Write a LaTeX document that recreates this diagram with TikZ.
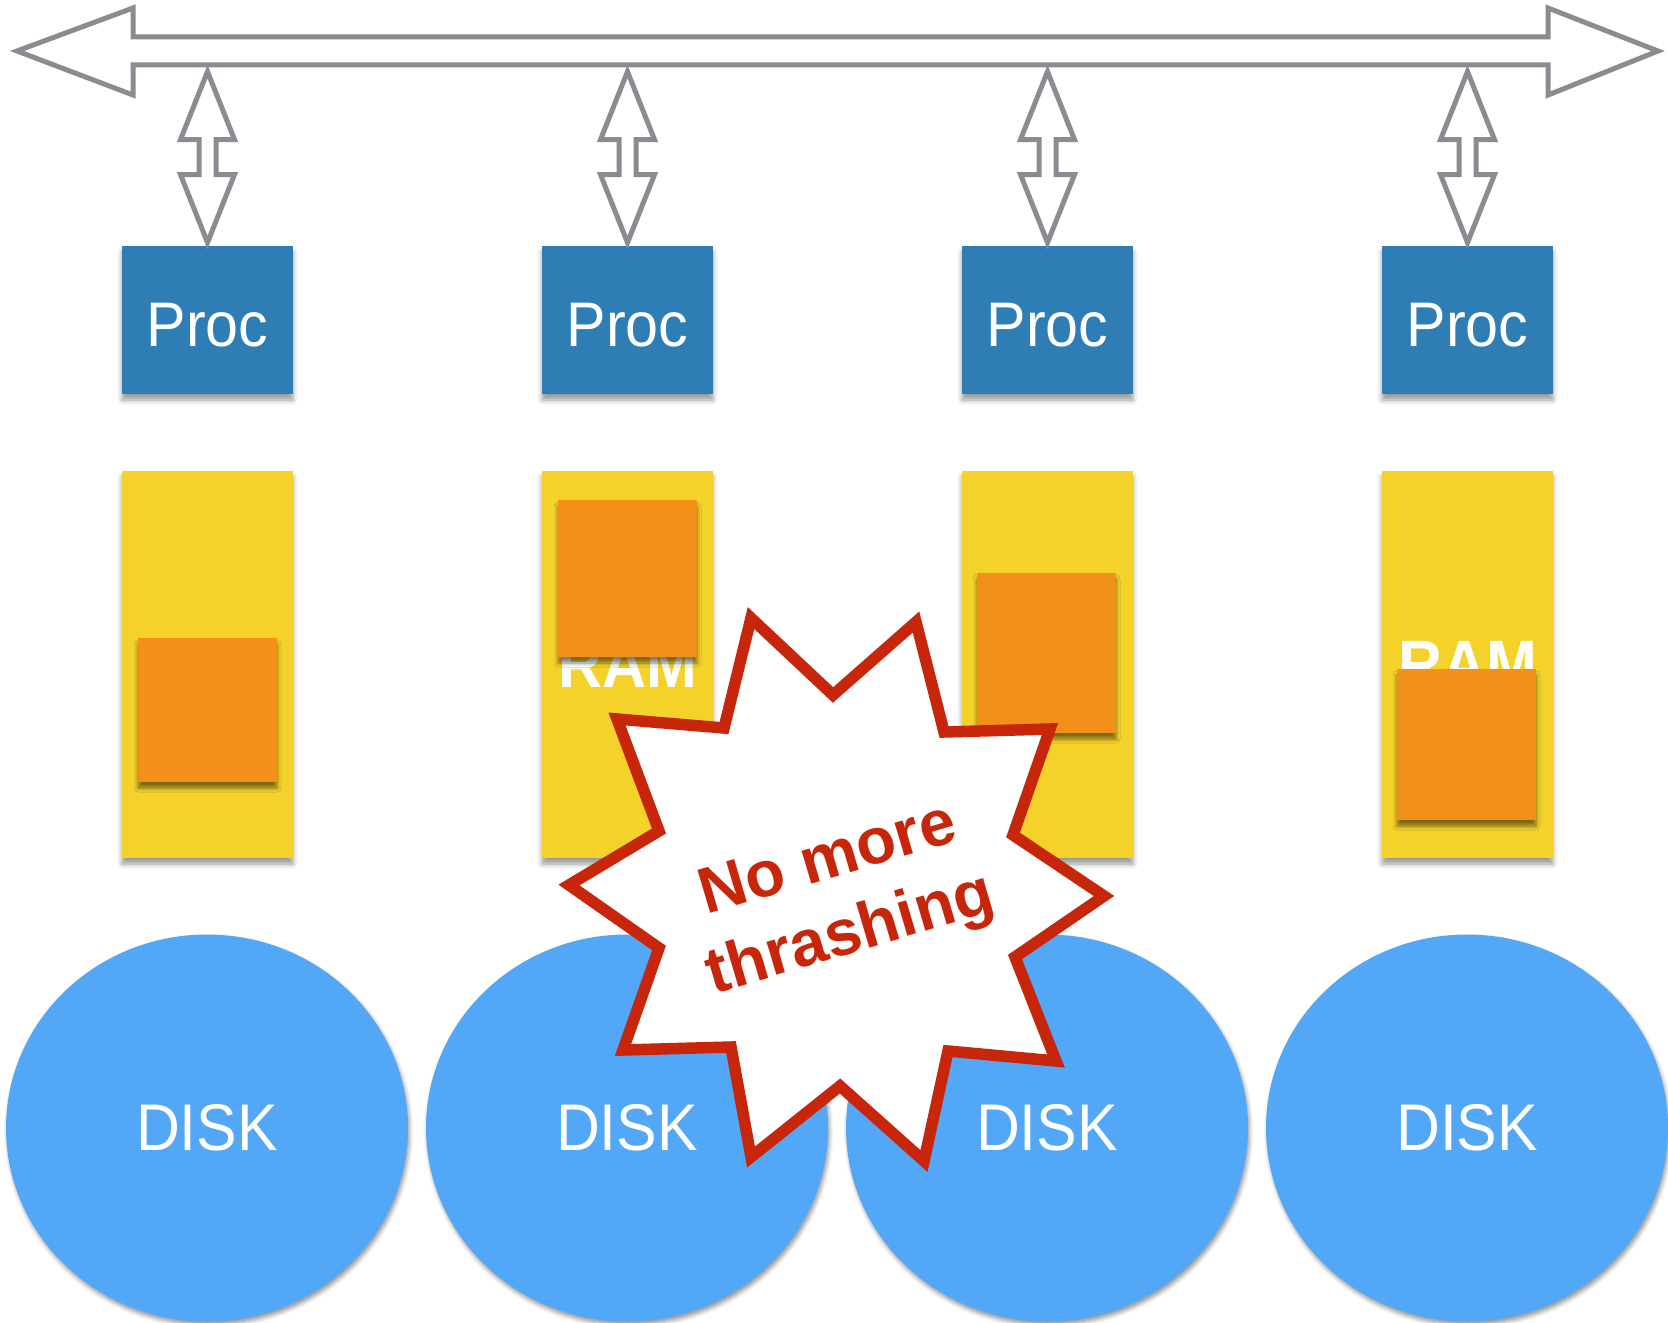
\documentclass[tikz,border=0pt]{standalone}
\usepackage{fontspec}
\usepackage{graphicx}
\setmainfont{Liberation Sans}
\usetikzlibrary{shapes.geometric,shadows.blur,calc}

\definecolor{busgray}{RGB}{138,140,145}
\definecolor{procblue}{RGB}{46,125,181}
\definecolor{ramyellow}{RGB}{245,210,42}
\definecolor{pageorange}{RGB}{242,144,26}
\definecolor{diskblue}{RGB}{82,167,247}
\definecolor{alertred}{RGB}{200,38,10}

\begin{document}
\begin{tikzpicture}[x=0.5pt,y=-0.5pt,
  bus/.style={draw=busgray, line width=2.5pt, fill=white, line join=miter},
  softshadow/.style={blur shadow={shadow xshift=0pt, shadow yshift=-3pt,
      shadow blur radius=2.5pt, shadow opacity=40}},
  proc/.style={rectangle, fill=procblue, minimum width=85.5pt, minimum height=74pt,
      inner sep=0pt, text=white, font=\fontsize{31.5}{36}\selectfont, softshadow},
  ram/.style={rectangle, fill=ramyellow, minimum width=85.5pt, minimum height=193.5pt,
      inner sep=0pt, text=white, font=\bfseries\fontsize{33.5}{38}\selectfont, softshadow},
  memblock/.style={fill=pageorange, blur shadow={shadow xshift=0pt, shadow yshift=-3pt,
      shadow blur radius=2pt, shadow opacity=50}},
  disk/.style={ellipse, fill=diskblue, minimum width=201pt, minimum height=193.5pt,
      inner sep=0pt, text=white, font=\fontsize{33}{38}\selectfont,
      blur shadow={shadow xshift=0.8pt, shadow yshift=-1.8pt, shadow blur radius=2pt,
      shadow opacity=40}},
  burst/.style={draw=alertred, line width=5.75pt, fill=white, line join=miter, miter limit=10},
  burstlabel/.style={text=alertred, font=\bfseries\fontsize{32.5}{37}\selectfont,
      align=center, inner sep=0pt},
]
\useasboundingbox (0,0) rectangle (1668,1322);

% processors
\foreach \i/\cx in {1/207.5, 2/627.5, 3/1047.5, 4/1467.5}
  \node[proc] (p\i) at (\cx,320)
    {\raisebox{-2.2pt}[\height][0pt]{\scalebox{0.94}[1]{Proc}}};

% memory banks with their labels
\foreach \i/\cx in {1/207.5, 2/627.5, 3/1047.5, 4/1467.5}
  \node[ram] (r\i) at (\cx,664.5) {\scalebox{0.91}[1]{RAM}};

% pages held in each bank
\path[memblock] (138,638) rectangle (277,782);
\path[memblock] (558,500) rectangle (697,657);
\path[memblock] (977,573) rectangle (1116,733);
\path[memblock] (1397,669) rectangle (1536,820);

% disks
\foreach \i/\cx in {1/207, 2/627, 3/1047, 4/1467}
  \node[disk] (d\i) at (\cx,1128) {\scalebox{0.92}[1]{DISK}};

% links from each processor up to the bus
\foreach \i in {1,2,3,4}
  \draw[bus] ($(p\i.north)+(0,-3)$) -- ++(27,-68) -- ++(-18.5,0) -- ++(0,-35)
     -- ++(18.5,0) -- ++(-27,-68) -- ++(-27,68) -- ++(18.5,0) -- ++(0,35)
     -- ++(-18.5,0) -- cycle;

% shared bus
\coordinate (busL) at (17,51);
\coordinate (busR) at (1658,51);
\draw[bus] (busL) -- (133,8) -- (133,37) -- (1548,37) -- (1548,8) -- (busR)
  -- (1548,95) -- (1548,65) -- (133,65) -- (133,95) -- cycle;

% starburst callout
\draw[burst] (751,618) -- (833,695) -- (916,622) -- (944,732) -- (1050,729)
  -- (1013,835) -- (1104,896) -- (1015,957) -- (1056,1061) -- (948,1051)
  -- (924,1161) -- (840,1086) -- (751,1157) -- (731,1047) -- (623,1050)
  -- (659,948) -- (569,885) -- (659,831) -- (617,719) -- (724,728) -- cycle;
\node[burstlabel, rotate=16.5] (note) at (840,900) {No more\\[2pt]thrashing};
\end{tikzpicture}
\end{document}
